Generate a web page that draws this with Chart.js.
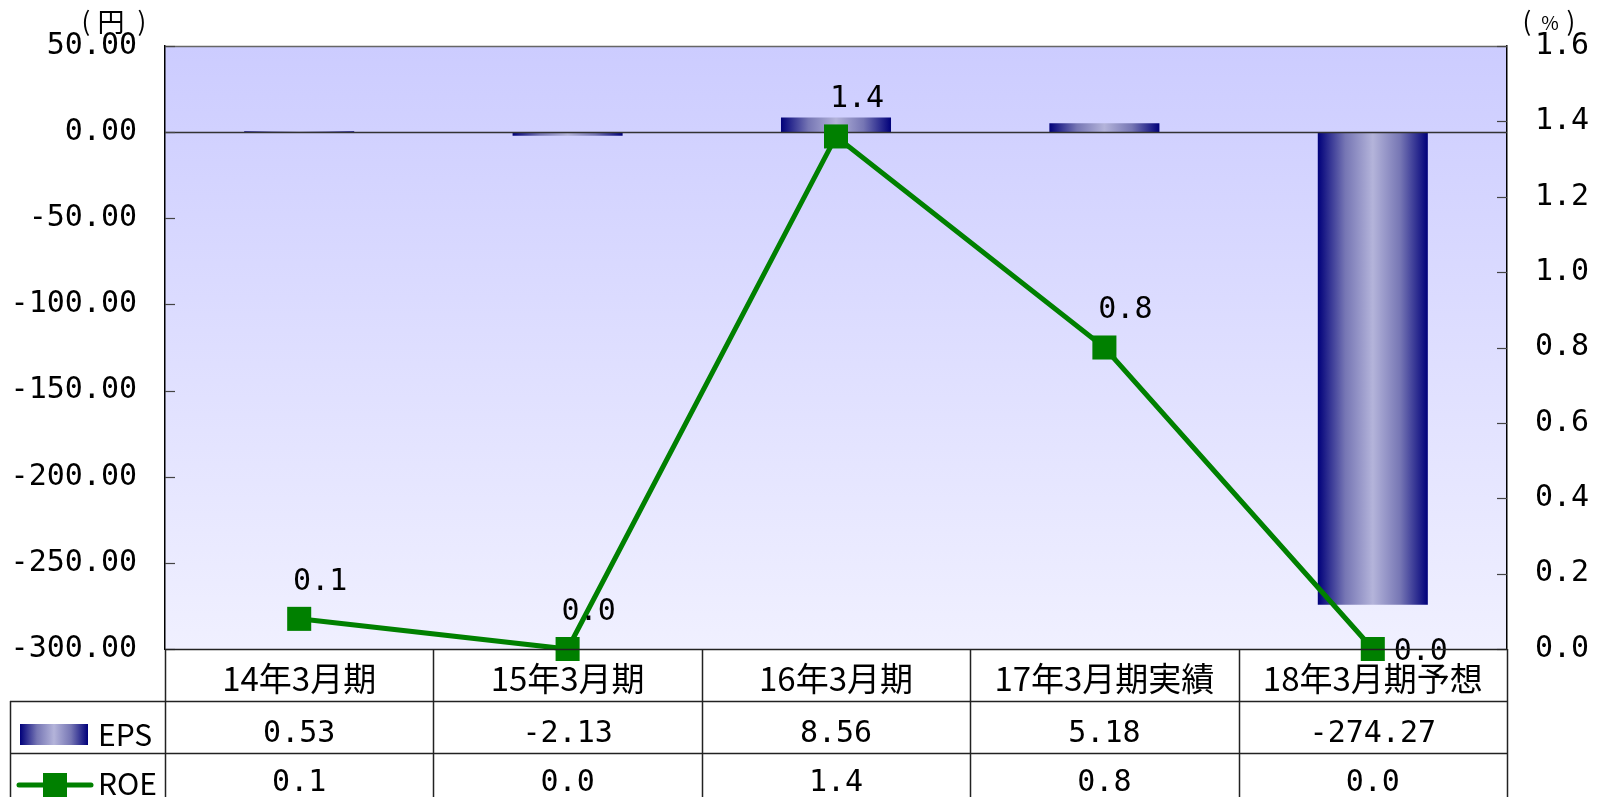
<!DOCTYPE html>
<html lang="ja">
<head>
<meta charset="UTF-8">
<title>EPS・ROE推移</title>
<script src="https://cdn.jsdelivr.net/npm/chart.js"></script>
<style>
  html, body { margin: 0; padding: 0; background: #fff; }
  #wrap { width: 1600px; height: 797px; }
</style>
</head>
<body>
<div id="wrap"><canvas id="chart" width="1600" height="797"></canvas></div>
<script>
  // データ
  const categories = ['14年3月期', '15年3月期', '16年3月期', '17年3月期実績', '18年3月期予想'];
  const epsValues = [0.53, -2.13, 8.56, 5.18, -274.27];
  const roeValues = [0.08, 0.0, 1.36, 0.8, 0.0];
  const epsAxis = { min: -300, max: 50, step: 50 };
  const roeAxis = { min: 0, max: 1.6, step: 0.2 };

  const NUM_FAMILY = '"DejaVu Sans Mono", "Noto Sans CJK JP", monospace';
  const JP_FAMILY = '"Noto Sans CJK JP", sans-serif';
  const LINE_COLOR = '#222';
  const GREEN = '#008000';
  const BAR_PCT = 0.41;

  function barGradient(c2d, x0, x1) {
    const g = c2d.createLinearGradient(x0, 0, x1, 0);
    g.addColorStop(0, '#00007a');
    g.addColorStop(0.25, '#7676b4');
    g.addColorStop(0.5, '#b4b4da');
    g.addColorStop(0.75, '#7676b4');
    g.addColorStop(1, '#00007a');
    return g;
  }

  // プロット背景（縦グラデーション）
  const plotBackground = {
    id: 'plotBackground',
    beforeDraw(chart) {
      const { ctx, chartArea: a } = chart;
      const g = ctx.createLinearGradient(0, a.top, 0, a.bottom);
      g.addColorStop(0, '#ccccff');
      g.addColorStop(1, '#f0f0ff');
      ctx.save();
      ctx.fillStyle = g;
      ctx.fillRect(a.left, a.top, a.right - a.left, a.bottom - a.top);
      ctx.restore();
    }
  };

  // 枠線・ゼロ線・内向き目盛り
  const frame = {
    id: 'frame',
    afterDatasetDraw(chart, args) {
      if (args.index !== 1) return; // 棒の後、折れ線の前
      const { ctx, chartArea: a, scales } = chart;
      ctx.save();
      ctx.strokeStyle = '#333';
      ctx.lineWidth = 1.5;
      const y0 = Math.round(scales.y.getPixelForValue(0)) + 0.5;
      ctx.beginPath();
      ctx.moveTo(a.left, y0);
      ctx.lineTo(a.right, y0);
      ctx.stroke();
      ctx.restore();
    },
    afterDraw(chart) {
      const { ctx, chartArea: a, scales } = chart;
      ctx.save();
      ctx.strokeStyle = '#666';
      ctx.lineWidth = 1.5;
      ctx.beginPath();
      ctx.moveTo(a.left, a.top + 0.5);
      ctx.lineTo(a.right, a.top + 0.5);
      ctx.stroke();
      ctx.strokeStyle = '#444';
      ctx.lineWidth = 1.2;
      scales.y.ticks.forEach(t => {
        const y = Math.round(scales.y.getPixelForValue(t.value)) + 0.5;
        ctx.beginPath();
        ctx.moveTo(a.left, y);
        ctx.lineTo(a.left + 10, y);
        ctx.stroke();
      });
      scales.y1.ticks.forEach(t => {
        const y = Math.round(scales.y1.getPixelForValue(t.value)) + 0.5;
        ctx.beginPath();
        ctx.moveTo(a.right - 10, y);
        ctx.lineTo(a.right, y);
        ctx.stroke();
      });
      // 単位
      ctx.fillStyle = '#000';
      ctx.textAlign = 'center';
      ctx.textBaseline = 'middle';
      ctx.font = '26px ' + JP_FAMILY;
      ctx.fillText('(', 86, 21);
      ctx.fillText(')', 142, 21);
      ctx.fillText('(', 1527, 21);
      ctx.fillText(')', 1571, 21);
      ctx.font = '27px ' + JP_FAMILY;
      ctx.fillText('円', 111, 22);
      ctx.font = '19px ' + JP_FAMILY;
      ctx.fillText('%', 1550, 23);
      ctx.restore();
    }
  };

  // ROE データラベル
  const roeLabels = {
    id: 'roeLabels',
    afterDatasetsDraw(chart) {
      const { ctx } = chart;
      const meta = chart.getDatasetMeta(0);
      ctx.save();
      ctx.fillStyle = '#000';
      ctx.font = '30px ' + NUM_FAMILY;
      ctx.textAlign = 'center';
      ctx.textBaseline = 'middle';
      meta.data.forEach((pt, i) => {
        const txt = roeValues[i].toFixed(1);
        if (i === meta.data.length - 1) {
          ctx.fillText(txt, pt.x + 48, pt.y + 3);
        } else {
          ctx.fillText(txt, pt.x + 21, pt.y - 37);
        }
      });
      ctx.restore();
    }
  };

  // データテーブル
  const dataTable = {
    id: 'dataTable',
    afterDraw(chart) {
      const { ctx, chartArea: a, scales } = chart;
      const xs = scales.x;
      const colW = (a.right - a.left) / categories.length;
      const top = a.bottom;
      const row1 = top + 52;
      const row2 = row1 + 52;
      const bottom = chart.height;
      const legendLeft = 10;

      ctx.save();
      ctx.strokeStyle = LINE_COLOR;
      ctx.lineWidth = 1.5;
      ctx.beginPath();
      ctx.moveTo(a.left, top + 0.5); ctx.lineTo(a.right, top + 0.5);
      ctx.moveTo(legendLeft, row1 + 0.5); ctx.lineTo(a.right, row1 + 0.5);
      ctx.moveTo(legendLeft, row2 + 0.5); ctx.lineTo(a.right, row2 + 0.5);
      for (let i = 0; i <= categories.length; i++) {
        const x = Math.round(a.left + colW * i) + 0.5;
        ctx.moveTo(x, top); ctx.lineTo(x, bottom);
      }
      ctx.moveTo(legendLeft + 0.5, row1); ctx.lineTo(legendLeft + 0.5, bottom);
      ctx.stroke();

      ctx.fillStyle = '#000';
      ctx.textAlign = 'center';
      ctx.textBaseline = 'middle';
      const epsY = row1 + 33;
      const roeY = row2 + 30;
      categories.forEach((c, i) => {
        const x = xs.getPixelForValue(i);
        ctx.font = '33px ' + JP_FAMILY;
        ctx.fillText(c, x, top + 29);
        ctx.font = '30px ' + NUM_FAMILY;
        ctx.fillText(epsValues[i].toFixed(2), x, epsY);
        ctx.fillText(roeValues[i].toFixed(1), x, roeY);
      });

      // 凡例
      ctx.fillStyle = barGradient(ctx, 20, 88);
      ctx.fillRect(20, epsY - 10, 68, 21);
      ctx.strokeStyle = GREEN;
      ctx.lineWidth = 5;
      ctx.lineCap = 'round';
      ctx.beginPath();
      ctx.moveTo(19, roeY + 2); ctx.lineTo(91, roeY + 2);
      ctx.stroke();
      ctx.fillStyle = GREEN;
      ctx.fillRect(55 - 12, roeY + 2 - 12, 24, 24);
      ctx.fillStyle = '#000';
      ctx.textAlign = 'left';
      ctx.font = '30px ' + JP_FAMILY;
      ctx.fillText('EPS', 98, epsY + 1);
      ctx.fillText('ROE', 98, roeY + 1);
      ctx.restore();
    }
  };

  const ctx = document.getElementById('chart').getContext('2d');

  const chart = new Chart(ctx, {
    data: {
      labels: categories,
      datasets: [
        {
          type: 'line',
          label: 'ROE',
          data: roeValues,
          yAxisID: 'y1',
          order: 0,
          borderColor: GREEN,
          backgroundColor: GREEN,
          borderWidth: 5,
          tension: 0,
          pointStyle: 'rect',
          pointRadius: 17,
          pointHoverRadius: 17,
          pointBorderWidth: 0,
          pointBackgroundColor: GREEN,
          clip: false
        },
        {
          type: 'bar',
          label: 'EPS',
          data: epsValues,
          yAxisID: 'y',
          order: 1,
          barPercentage: BAR_PCT,
          categoryPercentage: 1,
          borderWidth: 0,
          backgroundColor: (c) => {
            const ch = c.chart;
            if (!ch.chartArea || c.dataIndex === undefined) return '#6a6ab0';
            const xs = ch.scales.x;
            const xc = xs.getPixelForValue(c.dataIndex);
            const w = (ch.chartArea.right - ch.chartArea.left) / categories.length * BAR_PCT;
            return barGradient(ch.ctx, xc - w / 2, xc + w / 2);
          }
        }
      ]
    },
    options: {
      responsive: false,
      animation: false,
      layout: { padding: { top: 45, bottom: 148, left: 0, right: 0 } },
      plugins: {
        legend: { display: false },
        tooltip: { enabled: false }
      },
      scales: {
        x: { display: false },
        y: {
          position: 'left',
          min: epsAxis.min,
          max: epsAxis.max,
          ticks: {
            stepSize: epsAxis.step,
            callback: v => v.toFixed(2),
            color: '#000',
            padding: 28,
            font: { family: NUM_FAMILY, size: 30 }
          },
          grid: { display: false, drawTicks: false },
          border: { display: true, color: '#000', width: 1.5 },
          afterFit: s => { s.width = 165; }
        },
        y1: {
          position: 'right',
          min: roeAxis.min,
          max: roeAxis.max,
          ticks: {
            stepSize: roeAxis.step,
            callback: v => v.toFixed(1),
            color: '#000',
            padding: 28,
            font: { family: NUM_FAMILY, size: 30 }
          },
          grid: { display: false, drawTicks: false },
          border: { display: true, color: '#000', width: 1.5 },
          afterFit: s => { s.width = 93; }
        }
      }
    },
    plugins: [plotBackground, frame, roeLabels, dataTable]
  });
</script>
</body>
</html>
